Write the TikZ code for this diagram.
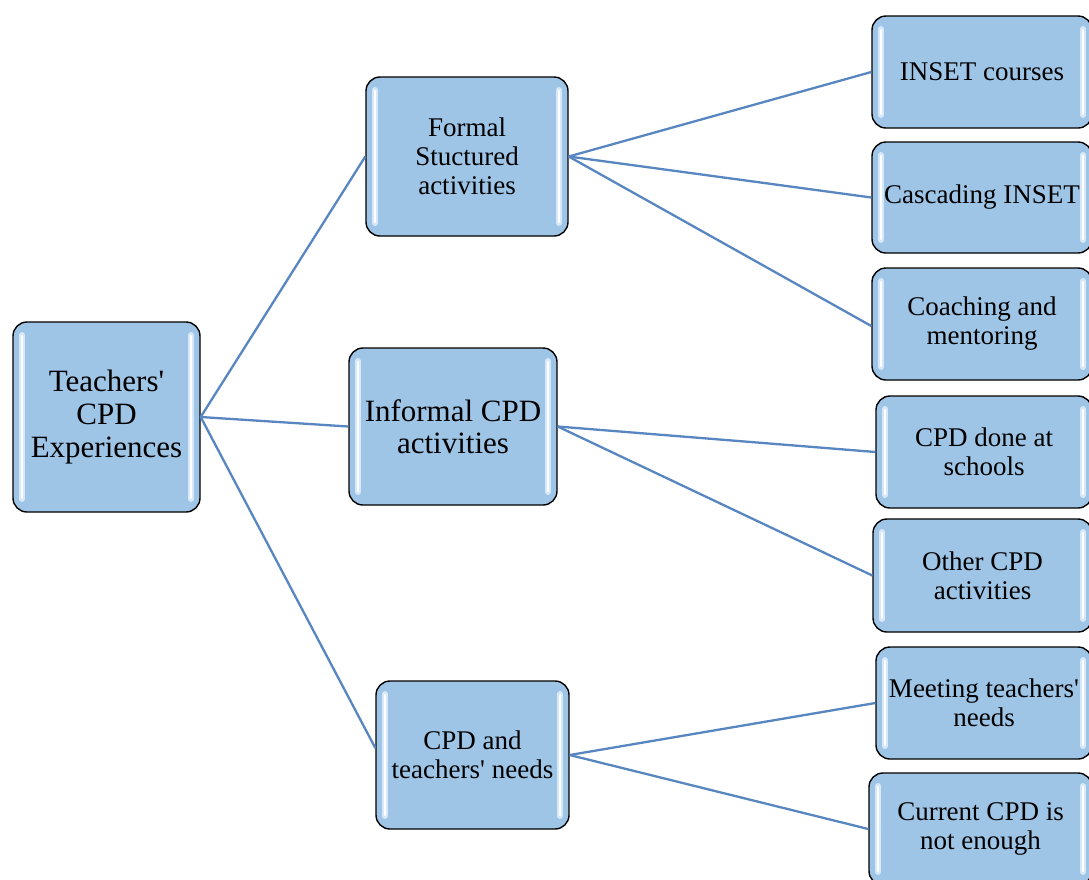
\documentclass[tikz,border=0pt]{standalone}
\usepackage{fontspec}
\setmainfont{Liberation Serif}[Ligatures=TeXOff]
\definecolor{boxblue}{RGB}{158,196,230}
\definecolor{linkblue}{RGB}{88,134,192}
\definecolor{glow}{RGB}{215,232,248}
\tikzset{
  cpdbox/.style={draw=black, line width=1.4pt, rounded corners=14pt, fill=boxblue,
    align=center, inner sep=0pt, font=\fontsize{27}{29}\selectfont,
    path picture={
      \foreach \side/\dx in {west/9pt, east/-9pt}{
        \draw[glow, line width=6pt, line cap=round]
          ([xshift=\dx, yshift=-13pt]path picture bounding box.north \side) --
          ([xshift=\dx, yshift=13pt]path picture bounding box.south \side);
        \draw[white, line width=2.4pt, line cap=round]
          ([xshift=\dx, yshift=-14pt]path picture bounding box.north \side) --
          ([xshift=\dx, yshift=14pt]path picture bounding box.south \side);
      }
    }},
  bigtext/.style={font=\fontsize{31}{33}\selectfont},
  link/.style={draw=linkblue, line width=2.3pt}
}
\begin{document}
\begin{tikzpicture}[x=1pt, y=-1pt]
  \useasboundingbox (0,0) rectangle (1089,879);

  % root and main branches
  \node[cpdbox, bigtext, minimum width=187pt, minimum height=190pt] (root) at (106.5,417) {Teachers'\\CPD\\Experiences};
  \node[cpdbox, minimum width=202pt, minimum height=159pt] (formal) at (467,156.5) {Formal\\Stuctured\\activities};
  \node[cpdbox, font=\fontsize{31}{32}\selectfont, minimum width=208pt, minimum height=157pt] (informal) at (453,426.5) {Informal CPD\\activities};
  \node[cpdbox, minimum width=193pt, minimum height=148pt] (needs) at (472.5,755) {CPD and\\teachers' needs};

  % leaves
  \node[cpdbox, minimum width=220pt, minimum height=112pt] (inset) at (982,72) {INSET courses};
  \node[cpdbox, minimum width=220pt, minimum height=111pt] (cascade) at (982,197.5) {Cascading INSET};
  \node[cpdbox, minimum width=220pt, minimum height=112pt] (coach) at (982,324) {Coaching and\\mentoring};
  \node[cpdbox, minimum width=216pt, minimum height=112pt] (school) at (984,452) {CPD done at\\schools};
  \node[cpdbox, minimum width=219pt, minimum height=113pt] (other) at (982.5,575.5) {Other CPD\\activities};
  \node[cpdbox, minimum width=216pt, minimum height=112pt] (meet) at (984,703) {Meeting teachers'\\needs};
  \node[cpdbox, minimum width=223pt, minimum height=112pt] (current) at (980.5,829) {Current CPD is\\not enough};

  % connectors
  \draw[link] (root.east) -- (formal.west);
  \draw[link] (root.east) -- (informal.west);
  \draw[link] (root.east) -- ([yshift=7pt]needs.west);
  \draw[link] (formal.east) -- (inset.west);
  \draw[link] (formal.east) -- (cascade.west);
  \draw[link] (formal.east) -- ([yshift=-2pt]coach.west);
  \draw[link] (informal.east) -- (school.west);
  \draw[link] (informal.east) -- (other.west);
  \draw[link] (needs.east) -- (meet.west);
  \draw[link] (needs.east) -- (current.west);
\end{tikzpicture}
\end{document}
